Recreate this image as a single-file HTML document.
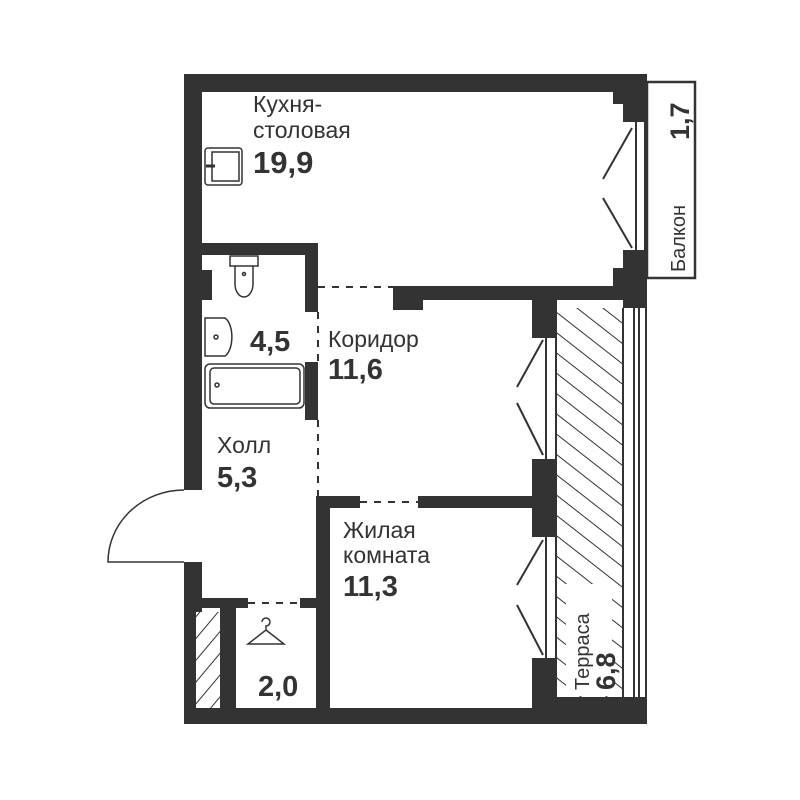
<!DOCTYPE html>
<html><head><meta charset="utf-8"><style>
html,body{margin:0;padding:0;background:#fff;width:800px;height:800px;overflow:hidden}
svg{display:block}
text{font-family:"Liberation Sans",sans-serif;fill:#333}
.b{font-weight:bold}
</style></head><body>
<svg width="800" height="800" viewBox="0 0 800 800">
<defs>
<pattern id="h" patternUnits="userSpaceOnUse" width="14" height="14" patternTransform="rotate(40)">
<line x1="0" y1="0" x2="0" y2="14" stroke="#333" stroke-width="2"/>
</pattern>
<pattern id="h2" patternUnits="userSpaceOnUse" width="16" height="16" patternTransform="rotate(-52)">
<line x1="0" y1="0" x2="0" y2="16" stroke="#333" stroke-width="2"/>
</pattern>
</defs>
<!-- terrace hatch -->
<rect x="557" y="308" width="65" height="395" fill="url(#h2)"/>
<rect x="566" y="584" width="46" height="112" fill="#fff"/>
<!-- wardrobe hatch -->
<rect x="196" y="612" width="24" height="96" fill="url(#h)"/>
<g fill="#333">
<rect x="184" y="74" width="463" height="18"/>
<rect x="184" y="74" width="18" height="416"/>
<rect x="184" y="562" width="12" height="162"/>
<rect x="184" y="562" width="18" height="50"/>
<rect x="184" y="708" width="463" height="16"/>
<rect x="532" y="697" width="115" height="27"/>
<rect x="623" y="74" width="24" height="48"/>
<rect x="613" y="92" width="12" height="12"/>
<rect x="623" y="250" width="24" height="58"/>
<rect x="613" y="268" width="12" height="18"/>
<rect x="393" y="286" width="254" height="14"/>
<rect x="393" y="286" width="30" height="24"/>
<rect x="532" y="296" width="25" height="42"/>
<rect x="532" y="459" width="25" height="78"/>
<rect x="532" y="658" width="25" height="50"/>
<rect x="202" y="243" width="116" height="12"/>
<rect x="305" y="243" width="13" height="69"/>
<rect x="305" y="362" width="13" height="58"/>
<rect x="202" y="270" width="10" height="30"/>
<rect x="316" y="496" width="44" height="12"/>
<rect x="418" y="496" width="117" height="12"/>
<rect x="316" y="496" width="14" height="212"/>
<rect x="202" y="598" width="46" height="10"/>
<rect x="300" y="598" width="16" height="10"/>
<rect x="220" y="598" width="16" height="110"/>
</g>
<g stroke="#333" fill="none" stroke-width="2">
<line x1="636" y1="122" x2="636" y2="250"/><line x1="645" y1="122" x2="645" y2="250"/>
<line x1="546" y1="338" x2="546" y2="459"/><line x1="556" y1="338" x2="556" y2="459"/>
<line x1="546" y1="537" x2="546" y2="658"/><line x1="556" y1="537" x2="556" y2="658"/>
<line x1="623" y1="308" x2="623" y2="700"/><line x1="634" y1="300" x2="634" y2="700"/>
<line x1="639" y1="300" x2="639" y2="700"/><line x1="646" y1="300" x2="646" y2="700"/>
<line x1="632" y1="128" x2="603" y2="179"/><line x1="603" y1="198" x2="632" y2="248"/>
<line x1="543" y1="340" x2="517" y2="387"/><line x1="517" y1="403" x2="543" y2="455"/>
<line x1="543" y1="540" x2="517" y2="585"/><line x1="517" y1="605" x2="543" y2="655"/>
<rect x="647" y="82" width="48" height="196" stroke-width="2.5"/>
<line x1="318" y1="287" x2="393" y2="287" stroke-dasharray="7,7"/>
<line x1="318" y1="312" x2="318" y2="362" stroke-dasharray="7,7"/>
<line x1="318" y1="420" x2="318" y2="496" stroke-dasharray="7,7"/>
<line x1="360" y1="502" x2="418" y2="502" stroke-dasharray="7,7"/>
<line x1="248" y1="603" x2="300" y2="603" stroke-dasharray="7,7"/>
<path d="M184 490 A76 72 0 0 0 108 562 L184 562" stroke-width="1.5"/>
</g>
<g stroke="#333" fill="none" stroke-width="1.5">
<rect x="205" y="148" width="37" height="37" rx="3"/>
<rect x="212" y="152" width="27" height="29"/>
<line x1="206" y1="166" x2="215" y2="166" stroke-width="3"/>
<rect x="230" y="256" width="28" height="10"/>
<path d="M235 266 v18 a9 13 0 0 0 18 0 v-18"/>
<circle cx="244" cy="274" r="1.5"/>
<path d="M205 318 h20 a10 20 0 0 1 0 38 h-20 z"/>
<circle cx="216" cy="337" r="2"/>
<rect x="205" y="364" width="99" height="44" rx="5"/>
<rect x="210" y="368" width="90" height="36" rx="4"/>
<circle cx="217" cy="385" r="2"/>
<path d="M262 622 a4 4 0 1 1 4 4 v4 l-18 14 h36 l-18 -14"/>
</g>
<text x="253" y="112" font-size="23">Кухня-</text>
<text x="253" y="138" font-size="23">столовая</text>
<text x="253" y="173" font-size="31" class="b">19,9</text>
<text x="250" y="351" font-size="29" class="b">4,5</text>
<text x="328" y="347" font-size="23">Коридор</text>
<text x="328" y="379" font-size="29" class="b">11,6</text>
<text x="217" y="453" font-size="23">Холл</text>
<text x="217" y="487" font-size="29" class="b">5,3</text>
<text x="343" y="538" font-size="23">Жилая</text>
<text x="343" y="563" font-size="23">комната</text>
<text x="343" y="596" font-size="29" class="b">11,3</text>
<text x="258" y="696" font-size="29" class="b">2,0</text>
<text transform="translate(589,690) rotate(-90)" font-size="20">Терраса</text>
<text transform="translate(615,690) rotate(-90)" font-size="27" class="b">6,8</text>
<text transform="translate(689,140) rotate(-90)" font-size="27" class="b">1,7</text>
<text transform="translate(685,272) rotate(-90)" font-size="20">Балкон</text>
</svg>
</body></html>
